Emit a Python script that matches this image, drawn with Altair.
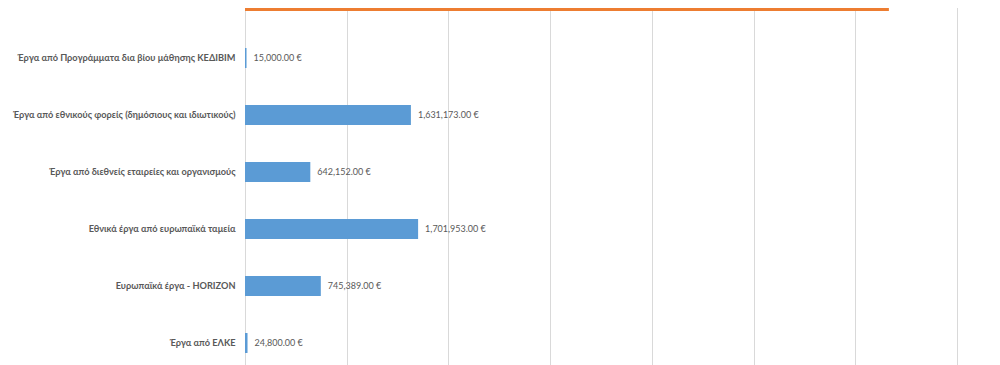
import altair as alt
import pandas as pd

categories = [
    "ΣΥΝΟΛΟ",
    "Έργα από Προγράμματα δια βίου μάθησης ΚΕΔΙΒΙΜ",
    "Έργα από εθνικούς φορείς (δημόσιους και ιδιωτικούς)",
    "Έργα από διεθνείς εταιρείες και οργανισμούς",
    "Εθνικά έργα από ευρωπαϊκά ταμεία",
    "Ευρωπαϊκά έργα - HORIZON",
    "Έργα από ΕΛΚΕ",
]
values = [6330397, 15000, 1631173, 642152, 1701953, 745389, 24800]
groups = ["total", "part", "part", "part", "part", "part", "part"]
grid_values = [0, 1000000, 2000000, 3000000, 4000000, 5000000, 6000000, 7000000]

df = pd.DataFrame({"cat": categories, "value": values, "group": groups})

yscale = alt.Scale(domain=categories, range=[-35.5, 363.5],
                   paddingInner=0.65, paddingOuter=0.325)
xscale = alt.Scale(domain=[0, 7000000], nice=False)

base = alt.Chart(df).encode(
    y=alt.Y("cat:N", sort=categories, scale=yscale,
            axis=alt.Axis(title=None, domain=False, ticks=False, labelPadding=10,
                          labelFont="Lato", labelFontSize=9.2, labelFontWeight="bold",
                          labelColor="#595959", labelLimit=400)),
    x=alt.X("value:Q", scale=xscale,
            axis=alt.Axis(title=None, labels=False, ticks=False, domain=False,
                          grid=True, gridColor="#d9d9d9", values=grid_values,
                          labelOverlap=False)),
)

bars = base.mark_bar(clip=True).encode(
    color=alt.Color("group:N", scale=alt.Scale(domain=["total", "part"],
                                                range=["#ed7d31", "#5b9bd5"]),
                    legend=None)
)

labels = base.mark_text(align="left", dx=7, font="Lato", fontSize=9,
                        color="#595959").transform_calculate(
    lab="format(datum.value, ',.2f') + ' €'"
).encode(text="lab:N")

chart = (bars + labels).properties(
    width=712, height=357,
    autosize=alt.AutoSizeParams(type="none"),
    padding={"left": 237, "top": 0, "right": 35, "bottom": 0},
).configure_view(stroke=None)

chart.save("out.html", embed_options={"renderer": "svg", "actions": False})
